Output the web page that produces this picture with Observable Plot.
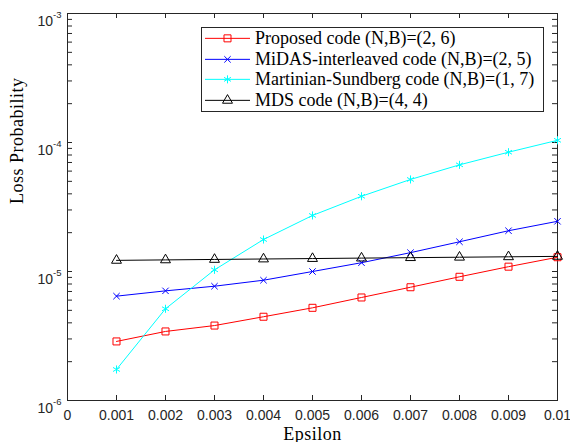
<!DOCTYPE html>
<html><head><meta charset="utf-8">
<script src="https://cdn.jsdelivr.net/npm/d3@7"></script>
<script src="https://cdn.jsdelivr.net/npm/@observablehq/plot@0.6"></script>
<style>
body{margin:0;background:#fff;}
#wrap{position:relative;width:570px;height:442px;overflow:hidden;}
#chart g[aria-label="x-axis tick label"], #chart g[aria-label="y-axis tick label"]{font-size:14px !important;font-family:"Liberation Sans",Arial,sans-serif !important;}
#legend{position:absolute;left:201px;top:27px;width:341px;border:1px solid #262626;background:#fff;font-family:"Liberation Serif","Times New Roman",serif;font-size:18px;color:#000;}
.row{display:flex;align-items:center;height:20.7px;white-space:nowrap;}
.row svg{flex:none;display:block;}
</style></head><body><div id="wrap"><div id="chart"></div><div id="legend"></div></div>
<script>
// ---- data ----
const epsilon = [0.001, 0.002, 0.003, 0.004, 0.005, 0.006, 0.007, 0.008, 0.009, 0.01];
const proposed = [2.87e-6, 3.43e-6, 3.81e-6, 4.46e-6, 5.23e-6, 6.29e-6, 7.55e-6, 9.1e-6, 1.09e-5, 1.29e-5];
const midas = [6.44e-6, 7.08e-6, 7.69e-6, 8.56e-6, 1.0e-5, 1.17e-5, 1.40e-5, 1.70e-5, 2.07e-5, 2.45e-5];
const martinian = [1.74e-6, 5.14e-6, 1.03e-5, 1.77e-5, 2.72e-5, 3.83e-5, 5.17e-5, 6.71e-5, 8.41e-5, 1.04e-4];
const mds = [1.22e-5, 1.23e-5, 1.24e-5, 1.25e-5, 1.26e-5, 1.27e-5, 1.28e-5, 1.29e-5, 1.30e-5, 1.31e-5];

const seriesNames = ["Proposed code (N,B)=(2, 6)", "MiDAS-interleaved code (N,B)=(2, 5)", "Martinian-Sundberg code (N,B)=(1, 7)", "MDS code (N,B)=(4, 4)"];
const seriesValues = [proposed, midas, martinian, mds];
const seriesColors = ["#ff0000", "#0000ff", "#00ffff", "#000000"];
const seriesSymbols = ["square", "times", "asterisk", "triangle"];
const seriesR = [3.95, 3.0, 3.8, 3.7];

const xTicks = [0, 0.001, 0.002, 0.003, 0.004, 0.005, 0.006, 0.007, 0.008, 0.009, 0.01];
const xTickLabels = ["0", "0.001", "0.002", "0.003", "0.004", "0.005", "0.006", "0.007", "0.008", "0.009", "0.01"];
const yTicks = [1e-6, 1e-5, 1e-4, 1e-3];
const yTickExponents = ["-6", "-5", "-4", "-3"];
const xLabel = "Epsilon";
const yLabel = "Loss Probability";

// ---- build ----
const rows = [];
seriesNames.forEach((name, s) => epsilon.forEach((e, i) => rows.push({series: name, x: e, y: seriesValues[s][i]})));

const W = 570, H = 442, mL = 67, mR = 13, mT = 13, mB = 42;
const fw = W - mL - mR, fh = H - mT - mB;
const yMinor = d3.scaleLog().domain([1e-6, 1e-3]).ticks();
const axisColor = "#262626";

const marks = [];
// inward ticks
marks.push(Plot.ruleY(yMinor, {y: d => d, insetRight: fw - 5, stroke: axisColor}));
marks.push(Plot.ruleY(yMinor, {y: d => d, insetLeft: fw - 5, stroke: axisColor}));
marks.push(Plot.ruleX(xTicks, {x: d => d, insetTop: fh - 5, stroke: axisColor}));
marks.push(Plot.ruleX(xTicks, {x: d => d, insetBottom: fh - 5, stroke: axisColor}));
marks.push(Plot.frame({stroke: axisColor, strokeWidth: 1}));
marks.push(Plot.axisX(xTicks, {tickSize: 0, tickPadding: 10, fontSize: 14, label: null,
  tickFormat: d => xTickLabels[xTicks.indexOf(d)]}));
marks.push(Plot.axisY(yTicks, {tickSize: 0, tickPadding: 6, fontSize: 14, label: null,
  tickFormat: d => yTickExponents[yTicks.indexOf(d)]}));
seriesNames.forEach((name, s) => {
  const data = rows.filter(r => r.series === name);
  marks.push(Plot.line(data, {x: "x", y: "y", stroke: seriesColors[s], strokeWidth: 1}));
  marks.push(Plot.dot(data, {x: "x", y: "y", symbol: () => seriesSymbols[s], r: seriesR[s], stroke: seriesColors[s], fill: "none", strokeWidth: 1}));
});
marks.push(Plot.text([xLabel], {text: d => d, frameAnchor: "bottom", lineAnchor: "bottom", dy: 39, fontFamily: "Liberation Serif, Times New Roman, serif", fontSize: 18, fill: "#000"}));
marks.push(Plot.text([yLabel], {text: d => d, frameAnchor: "left", rotate: -90, lineAnchor: "bottom", dx: -45, dy: -3, fontFamily: "Liberation Serif, Times New Roman, serif", fontSize: 18, fill: "#000"}));

const chart = Plot.plot({
  width: W, height: H,
  marginLeft: mL, marginRight: mR, marginTop: mT, marginBottom: mB,
  x: {domain: [0, 0.01]},
  y: {type: "log", domain: [1e-6, 1e-3]},
  symbol: {type: "identity"},
  style: {fontFamily: "Liberation Sans, Arial, sans-serif", fontSize: "14px", color: axisColor, background: "#fff", overflow: "visible"},
  marks
});
document.getElementById("chart").appendChild(chart);

// superscript exponents on y tick labels
chart.querySelectorAll('g[aria-label="y-axis tick label"] text').forEach(t => {
  const exp = t.textContent;
  t.textContent = "";
  t.setAttribute("dy", "8");
  const base = document.createElementNS("http://www.w3.org/2000/svg", "tspan");
  base.textContent = "10";
  const sup = document.createElementNS("http://www.w3.org/2000/svg", "tspan");
  sup.textContent = exp;
  sup.setAttribute("dy", "-8.3");
  sup.setAttribute("font-size", "9.5");
  t.appendChild(base); t.appendChild(sup);
});
chart.querySelectorAll('g[aria-label="text"] text').forEach(t => { t.style.letterSpacing = "0.5px"; });

// legend
const legend = d3.select("#legend");
seriesNames.forEach((name, s) => {
  const row = legend.append("div").attr("class", "row");
  const sv = row.append("svg").attr("width", 53).attr("height", 20.7);
  sv.append("line").attr("x1", 3).attr("x2", 48).attr("y1", 10.35).attr("y2", 10.35)
    .attr("stroke", seriesColors[s]).attr("stroke-width", 1);
  const symMap = {square: d3.symbolSquare, times: d3.symbolTimes, asterisk: d3.symbolAsterisk, triangle: d3.symbolTriangle};
  sv.append("path").attr("transform", "translate(25.5,10.35)")
    .attr("d", d3.symbol(symMap[seriesSymbols[s]], seriesR[s] * seriesR[s] * Math.PI)())
    .attr("fill", "none").attr("stroke", seriesColors[s]).attr("stroke-width", 1);
  row.append("span").text(name);
});
</script>
</body></html>
